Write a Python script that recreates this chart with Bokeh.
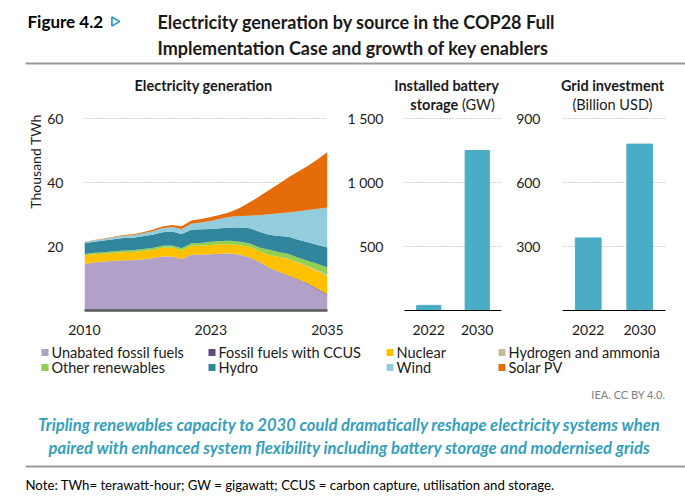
import math
from bokeh.plotting import figure
from bokeh.layouts import column, row
from bokeh.models import Range1d, FixedTicker, ColumnDataSource, FactorRange
from bokeh.transform import dodge
from bokeh.core.properties import value
from bokeh.embed import file_html
from bokeh.resources import INLINE

# ---------------- data ----------------
years = list(range(2010, 2036))

# Electricity generation by source, thousand TWh (stacked bottom to top)
unabated_fossil = [14.5, 15.0, 15.3, 15.5, 15.7, 15.7, 16.0, 16.3, 16.9, 16.9, 16.1, 17.4, 17.5,
                   17.6, 17.8, 17.8, 17.4, 16.6, 15.1, 13.3, 12.0, 10.8, 9.5, 8.2, 6.5, 4.8]
fossil_ccus = [0, 0, 0, 0, 0, 0, 0, 0, 0, 0, 0, 0, 0,
               0, 0, 0, 0, 0, 0.05, 0.08, 0.1, 0.12, 0.15, 0.2, 0.25, 0.3]
nuclear = [2.75, 2.6, 2.45, 2.48, 2.53, 2.57, 2.6, 2.64, 2.7, 2.79, 2.69, 2.8, 2.7,
           2.9, 2.9, 2.9, 3.0, 3.3, 3.35, 4.0, 4.6, 5.2, 5.25, 5.3, 5.55, 5.7]
hydrogen_ammonia = [0, 0, 0, 0, 0, 0, 0, 0, 0, 0, 0, 0, 0,
                    0, 0, 0, 0, 0, 0, 0, 0.05, 0.08, 0.12, 0.18, 0.24, 0.3]
other_renewables = [0.4, 0.42, 0.45, 0.5, 0.53, 0.55, 0.58, 0.61, 0.64, 0.66, 0.7, 0.8, 0.9,
                    1.0, 1.0, 1.1, 1.1, 1.0, 1.2, 1.6, 1.45, 1.42, 1.48, 1.62, 1.96, 2.3]
hydro = [3.4, 3.5, 3.65, 3.8, 3.9, 3.9, 4.0, 4.1, 4.2, 4.3, 4.4, 4.2, 4.3,
         4.0, 4.0, 4.1, 4.4, 4.8, 4.9, 4.7, 5.1, 5.4, 5.6, 5.8, 6.0, 6.3]
wind = [0.35, 0.43, 0.52, 0.63, 0.71, 0.83, 0.96, 1.13, 1.27, 1.42, 1.6, 1.9, 2.1,
        2.5, 3.0, 3.4, 3.6, 3.9, 5.2, 6.4, 7.1, 7.6, 8.9, 10.1, 11.3, 12.5]
solar_pv = [0.05, 0.07, 0.1, 0.14, 0.19, 0.25, 0.33, 0.45, 0.57, 0.68, 0.83, 1.0, 1.1,
            1.2, 1.2, 1.5, 2.6, 4.2, 5.9, 7.6, 9.2, 11.0, 12.4, 13.8, 15.5, 17.3]

source_names = ["Unabated fossil fuels", "Fossil fuels with CCUS", "Nuclear", "Hydrogen and ammonia",
                "Other renewables", "Hydro", "Wind", "Solar PV"]
source_colors = ["#b1a0c7", "#5c4a80", "#ffc000", "#c4bd97",
                 "#92d050", "#31859c", "#93cddd", "#e46c0a"]

year_ticks = [2010, 2023, 2035]
gen_ticks = [20, 40, 60]

# Installed battery storage (GW)
bar_years = ["2022", "2030"]
battery_gw = [40, 1250]
battery_ticks = [500, 1000, 1500]
battery_labels = {500: "500", 1000: "1 000", 1500: "1 500"}

# Grid investment (billion USD)
grid_busd = [340, 780]
grid_ticks = [300, 600, 900]

# ---------------- styles ----------------
FONT = "Lato"
TXT = "#1a1a1a"
GRID = "#a6a6a6"
BAR = "#4bacc6"
TEAL = "#35a0bd"

TOP_H = 96       # header strip
MID_H = 244      # chart strip (frames run from page y 96 to 310)
BOT_H = 504 - TOP_H - MID_H
FRAME_H = 214
BOTTOM_BORDER = MID_H - FRAME_H


def blank(width, height):
    p = figure(width=width, height=height, x_range=Range1d(0, width), y_range=Range1d(height, 0),
               output_backend="svg", toolbar_location=None, min_border=0)
    p.axis.visible = False
    p.grid.visible = False
    p.outline_line_color = None
    return p


def txt(p, x, y, s, size, style="normal", color=TXT, align="left", **kw):
    p.text(x=[x], y=[y], text=[s], text_font=value(FONT), text_font_size=f"{size}px",
           text_font_style=style, text_color=color, text_align=align, text_baseline="middle", **kw)


def subtitle(p, factor, offset, y, s, style, align):
    # panel subtitle inside the frame: x relative to a category, y in page pixels
    src = ColumnDataSource(dict(f=[factor], y=[y], t=[s]))
    p.text(x=dodge("f", offset, range=p.x_range), y="y", text="t", source=src,
           text_font=value(FONT), text_font_size="14.5px", text_font_style=style,
           text_color=TXT, text_align=align, text_baseline="middle", y_range_name="px")


def style_value_axis(p, ticks, standoff):
    ax = p.yaxis[0]
    ax.ticker = FixedTicker(ticks=ticks)
    ax.axis_line_color = None
    ax.major_tick_line_color = None
    ax.minor_tick_line_color = None
    ax.major_label_standoff = standoff
    ax.major_label_text_font = FONT
    ax.major_label_text_font_size = "14px"
    ax.major_label_text_color = TXT
    p.ygrid[0].ticker = FixedTicker(ticks=ticks)
    p.ygrid.grid_line_color = GRID
    p.ygrid.grid_line_dash = "1 2"
    p.ygrid.grid_line_width = 1
    p.xgrid.visible = False
    xa = p.xaxis[0]
    xa.major_tick_line_color = None
    xa.minor_tick_line_color = None
    xa.major_label_standoff = 8
    xa.major_label_text_font = FONT
    xa.major_label_text_font_size = "14px"
    xa.major_label_text_color = TXT
    p.outline_line_color = None


def chart(width, x_range, y_top, left, right):
    p = figure(width=width, height=MID_H, x_range=x_range, y_range=Range1d(0, y_top),
               min_border_left=left, min_border_right=right, min_border_top=0,
               min_border_bottom=BOTTOM_BORDER, output_backend="svg", toolbar_location=None)
    p.extra_y_ranges = {"px": Range1d(TOP_H + FRAME_H, TOP_H)}
    return p


# ---------------- header ----------------
top = blank(685, TOP_H)
txt(top, 27, 21, "Figure 4.2", 17, "bold", "#000000")
top.scatter(x=[114], y=[21], marker="triangle", size=9, angle=-math.pi / 2,
            fill_color="#ffffff", line_color=TEAL, line_width=1.8)
txt(top, 157, 21, "Electricity generation by source in the COP28 Full", 18, "bold")
txt(top, 157, 47, "Implementation Case and growth of key enablers", 18, "bold")
top.line(x=[25, 685], y=[63, 63], line_color="#9a9a9a", line_width=2)
txt(top, 203, 85, "Electricity generation", 14.5, "bold", align="center")
txt(top, 446, 85, "Installed battery", 14.5, "bold", align="center")
txt(top, 612, 85, "Grid investment", 14.5, "bold", align="center")

# ---------------- vertical axis title ----------------
LBL_W = 44
lab = blank(LBL_W, MID_H)
txt(lab, 35, 170 - TOP_H, "Thousand TWh", 14, align="center", angle=math.pi / 2)

# ---------------- electricity generation (stacked areas) ----------------
# 3.2 px per thousand TWh
gen = ColumnDataSource(dict(year=years, s0=unabated_fossil, s1=fossil_ccus, s2=nuclear,
                            s3=hydrogen_ammonia, s4=other_renewables, s5=hydro, s6=wind, s7=solar_pv))
pa = chart(300, Range1d(2010, 2035), FRAME_H / 3.2, 79 - LBL_W, 17)
pa.varea_stack(stackers=["s0", "s1", "s2", "s3", "s4", "s5", "s6", "s7"], x="year",
               color=source_colors, source=gen)
style_value_axis(pa, gen_ticks, 15)
pa.xaxis[0].ticker = FixedTicker(ticks=year_ticks)
pa.xaxis[0].axis_line_color = "#595959"
pa.xaxis[0].axis_line_width = 2.5

# ---------------- installed battery storage ----------------
pb = chart(166, FactorRange(*bar_years, range_padding=0), FRAME_H / 0.128, 49, 9)
pb.vbar(x=bar_years, top=battery_gw, width=0.5, color=BAR)
style_value_axis(pb, battery_ticks, 15)
pb.yaxis[0].major_label_overrides = battery_labels
pb.xaxis[0].axis_line_color = "#000000"
pb.xaxis[0].axis_line_width = 1.2
subtitle(pb, "2022", 0.61, 104, "storage", "bold", "right")
subtitle(pb, "2022", 0.685, 104, "(GW)", "normal", "left")

# ---------------- grid investment ----------------
pg = chart(175, FactorRange(*bar_years, range_padding=0), FRAME_H * 900 / 192, 52, 20)
pg.vbar(x=bar_years, top=grid_busd, width=0.5, color=BAR)
style_value_axis(pg, grid_ticks, 16)
pg.xaxis[0].axis_line_color = "#000000"
pg.xaxis[0].axis_line_width = 1.2
subtitle(pg, "2022", 0.47, 104, "(Billion USD)", "normal", "center")

# ---------------- legend, caption and note ----------------
bot = blank(685, BOT_H)
leg_x = [41, 208, 386, 498]
leg_y = [12, 27]
for i, (name, col) in enumerate(zip(source_names, source_colors)):
    x = leg_x[i % 4]
    y = leg_y[i // 4]
    bot.rect(x=[x + 3.5], y=[y], width=7, height=7, fill_color=col, line_color=None)
    txt(bot, x + 10, y, name, 14.5)
txt(bot, 665, 54, "IEA. CC BY 4.0.", 11, "normal", "#7f7f7f", align="right")
txt(bot, 349, 84, "Tripling renewables capacity to 2030 could dramatically reshape electricity systems when",
    16.6, "bold italic", TEAL, align="center")
txt(bot, 349, 107, "paired with enhanced system flexibility including battery storage and modernised grids",
    16.6, "bold italic", TEAL, align="center")
bot.line(x=[25, 685], y=[126, 126], line_color="#9a9a9a", line_width=2)
txt(bot, 25, 144, "Note: TWh= terawatt-hour; GW = gigawatt; CCUS = carbon capture, utilisation and storage.",
    13.2, "normal", "#000000")

layout = column(top, row(lab, pa, pb, pg), bot)
open("out.html", "w").write(file_html(layout, INLINE))
